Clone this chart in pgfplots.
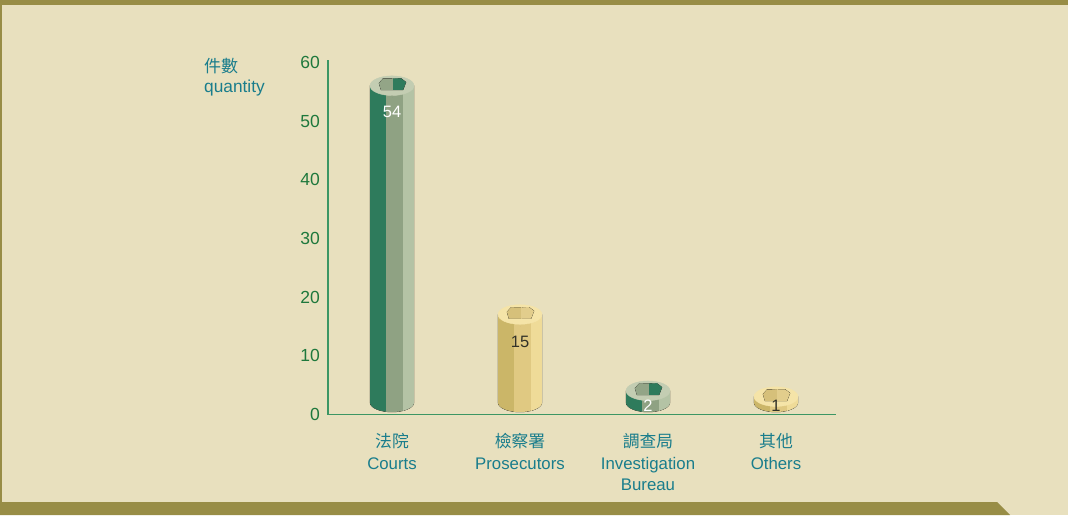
\documentclass[border=0pt]{standalone}
\usepackage{pgfplots}
\pgfplotsset{compat=1.18}
\usepackage{pgfplotstable}
\usepackage{fontspec}
\setmainfont{Liberation Sans}
\newfontfamily\cjk{Noto Sans CJK TC}

\definecolor{bgbeige}{RGB}{232,224,190}
\definecolor{frameolive}{RGB}{152,141,70}
\definecolor{axgreen}{RGB}{60,150,100}
\definecolor{tickgreen}{RGB}{30,120,60}
\definecolor{labteal}{RGB}{25,125,140}
% green cylinder
\definecolor{gA}{RGB}{46,123,92}
\definecolor{gB}{RGB}{143,162,131}
\definecolor{gC}{RGB}{180,195,165}
\definecolor{gR}{RGB}{195,205,178}
\definecolor{gH}{RGB}{147,165,135}
% yellow cylinder
\definecolor{yA}{RGB}{203,182,104}
\definecolor{yB}{RGB}{224,201,130}
\definecolor{yC}{RGB}{239,219,152}
\definecolor{yR}{RGB}{245,228,168}
\definecolor{yH}{RGB}{214,192,122}
\definecolor{yH2}{RGB}{226,205,140}
\definecolor{darktext}{RGB}{50,50,40}

\pgfplotstableread{
x v ly
0 54 51.65
2 2 1.55
}\greendata
\pgfplotstableread{
x v ly
1 15 12.45
3 1 1.55
}\yellowdata

\newcommand\drawcyl[7]{%
  \pgfmathsetmacro\H{\val*5.8667}%
  \pgfmathsetmacro\yb{12-\H}%
  \pgfmathsetmacro\yl{(\ly-\val)*5.8667}%
  \pgfmathtruncatemacro\vv{round(\val)}%
  \begin{scope}
    \clip (-22pt,\yb pt) -- (-22pt,12pt) -- (22pt,12pt) -- (22pt,\yb pt)
      arc[start angle=0,end angle=-180,x radius=22pt,y radius=9.5pt] -- cycle;
    \fill[#1] (-23pt,\yb pt-12pt) rectangle (-6pt,13pt);
    \fill[#2] (-6pt,\yb pt-12pt) rectangle (11pt,13pt);
    \fill[#3] (11pt,\yb pt-12pt) rectangle (23pt,13pt);
  \end{scope}
  \fill[#4] (0pt,12pt) ellipse[x radius=22pt,y radius=9.8pt];
  \begin{scope}
    \clip (-13pt,14.5pt) -- (-9pt,19pt) -- (9pt,19.3pt) -- (14pt,15.5pt) -- (11pt,7.8pt) -- (-11pt,7.8pt) -- cycle;
    \fill[#5] (-14pt,7pt) rectangle (1pt,20pt);
    \fill[#6] (1pt,7pt) rectangle (15pt,20pt);
  \end{scope}
  \node[text=#7, font=\fontsize{16.5}{16.5}\selectfont, inner sep=0pt] at (0pt,\yl pt) {\vv};
}

\pgfplotsset{
  cylbase/.style={scatter, only marks, mark=*, mark size=0pt,
    mark options={draw=none, fill=none},
    visualization depends on={\thisrow{v} \as \val},
    visualization depends on={\thisrow{ly} \as \ly},
    scatter/@post marker code/.code={}},
  greencyl/.style={cylbase,
    scatter/@pre marker code/.code={\drawcyl{gA}{gB}{gC}{gR}{gH}{gA}{white}}},
  yellowcyl/.style={cylbase,
    scatter/@pre marker code/.code={\drawcyl{yA}{yB}{yC}{yR}{yH}{yH2}{darktext}}},
}

\begin{document}
\begin{tikzpicture}
\useasboundingbox (0,0) rectangle (1068pt,515pt);
\fill[bgbeige] (0,0) rectangle (1068pt,515pt);
\fill[frameolive] (0,510pt) rectangle (1068pt,515pt);
\fill[frameolive] (0,0) rectangle (2pt,515pt);
\fill[frameolive] (0,0) -- (0,13pt) -- (997pt,13pt) -- (1010pt,0) -- cycle;

\node[anchor=west, inner sep=0pt, text=labteal, font=\fontsize{17}{17}\selectfont] at (204pt,449pt) {\cjk 件數};
\node[anchor=west, inner sep=0pt, text=labteal, font=\fontsize{17.3}{17.3}\selectfont] at (204pt,427pt) {quantity};

\begin{axis}[
  at={(328pt,100.5pt)}, anchor=south west,
  x=128pt, y=5.8667pt,
  xmin=-0.5, xmax=3.47, ymin=0, ymax=60.5,
  clip=false,
  axis x line*=bottom, axis y line*=left,
  axis line style={axgreen, line width=1.1pt, -},
  major tick length=0pt,
  ytick={0,10,...,60},
  xtick={0,1,2,3},
  xticklabels={{{\cjk 法院}\\Courts},{{\cjk 檢察署}\\Prosecutors},{{\cjk 調查局}\\Investigation\\Bureau},{{\cjk 其他}\\Others}},
  /pgf/number format/assume math mode=true,
  yticklabel style={font=\fontsize{17.5}{17.5}\selectfont, text=tickgreen, anchor=east, inner sep=0pt, xshift=-8pt},
  xticklabel style={font=\fontsize{16.8}{21.5}\selectfont, text=labteal, align=center, anchor=north, inner sep=0pt, yshift=-19pt},
]
\addplot[greencyl] table[x=x, y=v] {\greendata};
\addplot[yellowcyl] table[x=x, y=v] {\yellowdata};
\end{axis}
\end{tikzpicture}
\end{document}
